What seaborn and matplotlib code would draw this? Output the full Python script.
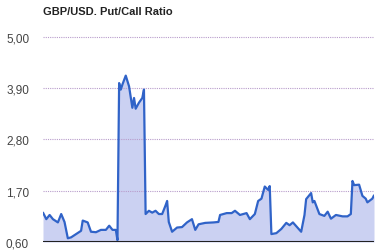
import matplotlib
matplotlib.use("Agg")
import matplotlib.pyplot as plt
import seaborn as sns
import pandas as pd

day = [0, 2, 4, 6, 9, 11, 13, 15, 17, 20, 23, 24, 27, 29, 32, 35, 38, 40, 42, 44,
       45, 46, 47, 48, 50, 52, 54, 55, 56, 58, 60, 61, 62, 64, 66, 68, 70, 72, 74, 75,
       76, 78, 81, 84, 87, 90, 92, 94, 98, 103, 106, 107, 111, 114, 116, 119, 123, 125, 128, 130,
       132, 134, 136, 137, 138, 141, 144, 147, 149, 151, 154, 156, 158, 159, 162, 163, 164, 167, 170, 172,
       174, 177, 181, 184, 186, 187, 188, 191, 193, 195, 196, 199, 200]
ratio = [1.23, 1.09, 1.18, 1.09, 1.02, 1.20, 1.03, 0.68, 0.70, 0.77, 0.84, 1.06, 1.02, 0.82, 0.81, 0.86, 0.86, 0.95, 0.86, 0.86,
         0.64, 4.01, 3.87, 3.98, 4.17, 3.94, 3.48, 3.69, 3.46, 3.59, 3.69, 3.87, 1.20, 1.27, 1.23, 1.27, 1.20, 1.20, 1.38, 1.48,
         1.03, 0.82, 0.91, 0.92, 1.02, 1.09, 0.86, 0.98, 1.01, 1.02, 1.03, 1.18, 1.22, 1.22, 1.27, 1.18, 1.22, 1.09, 1.20, 1.48,
         1.53, 1.79, 1.72, 1.80, 0.77, 0.79, 0.88, 1.01, 0.96, 1.02, 0.90, 0.82, 1.18, 1.52, 1.65, 1.45, 1.48, 1.20, 1.16, 1.25,
         1.10, 1.18, 1.15, 1.15, 1.20, 1.91, 1.82, 1.83, 1.59, 1.53, 1.45, 1.53, 1.60]
yticks = [0.60, 1.70, 2.80, 3.90, 5.00]
ytick_labels = ["0,60", "1,70", "2,80", "3,90", "5,00"]
title = "GBP/USD. Put/Call Ratio"

df = pd.DataFrame({"day": day, "ratio": ratio})

sns.set_theme(style="white")
plt.rcParams["font.family"] = ["Liberation Sans", "DejaVu Sans"]

fig = plt.figure(figsize=(3.84, 2.53), dpi=100)
ax = fig.add_axes([43 / 384, 10 / 253, 331 / 384, 206 / 253])

ax.fill_between(df["day"], 0.60, df["ratio"], color="#cbd1f2", linewidth=0, zorder=1)
for y in yticks[1:]:
    ax.axhline(y, color="#b89ccb", linewidth=0.8, linestyle=(0, (1, 1)), zorder=2)
sns.lineplot(data=df, x="day", y="ratio", ax=ax, color="#3063c8", linewidth=1.6, zorder=3)
ax.axhline(0.60, color="#222222", linewidth=1.5, zorder=4)

ax.set_xlim(min(day), max(day))
ax.set_ylim(0.60, 5.02)
ax.set_yticks(yticks)
ax.set_yticklabels(ytick_labels)
ax.set_xticks([])
ax.set_xlabel("")
ax.set_ylabel("")
ax.tick_params(axis="y", length=0, pad=10, labelsize=8.5, labelcolor="#444444")
for s in ax.spines.values():
    s.set_visible(False)

fig.text(43 / 384, 1 - 12 / 253, title, fontsize=8, fontweight="bold",
         color="#222222", ha="left", va="center")

fig.savefig("out.png", dpi=100)
